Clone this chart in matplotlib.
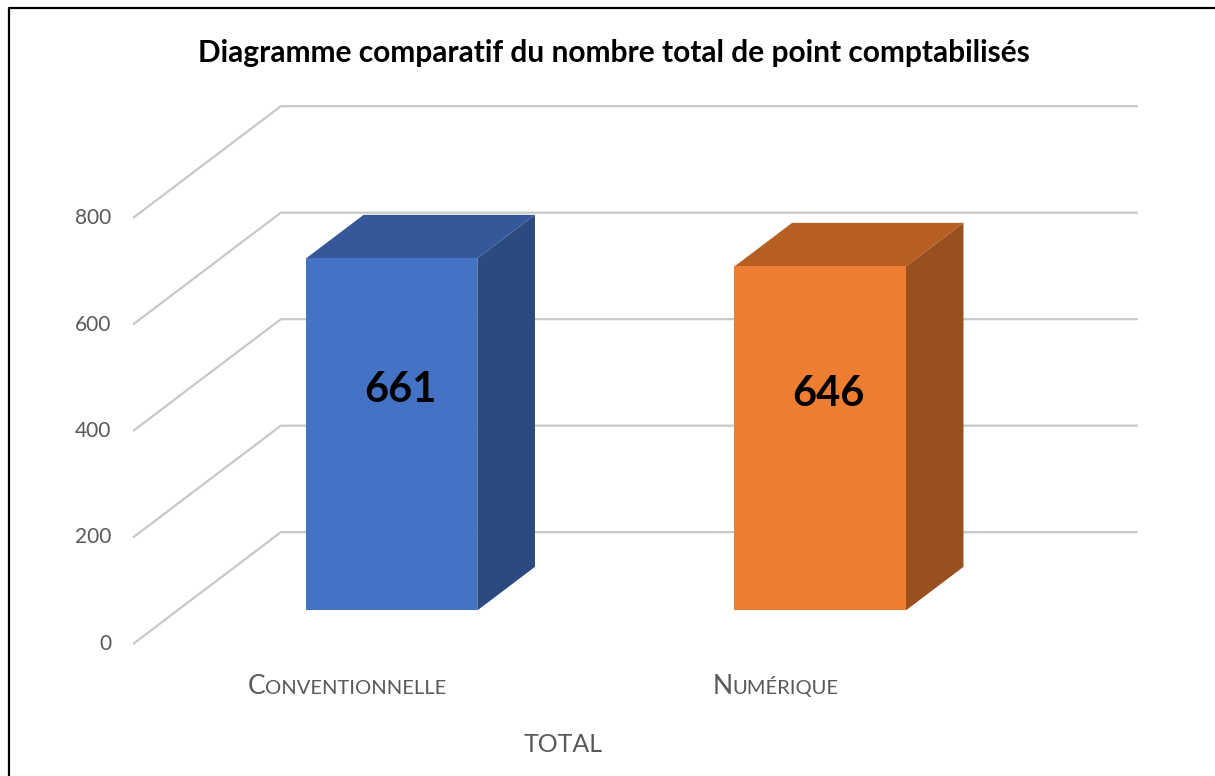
import matplotlib
matplotlib.use('Agg')
import matplotlib.pyplot as plt
from matplotlib.patches import Polygon
from matplotlib.lines import Line2D
from matplotlib.offsetbox import TextArea, HPacker, AnnotationBbox

plt.rcParams['font.family'] = ['Lato', 'DejaVu Sans']

# data
categories = ['Conventionnelle', 'Numérique']
totals = [661, 646]
yticks = [0, 200, 400, 600, 800]
front_colors = ['#4472C4', '#ED7D31']
top_colors = ['#34589A', '#B55F23']
side_colors = ['#2B4A7F', '#9A4F1E']

# oblique 3d look: depth 1.0 moves a point by (ddx, ddy) in data units
ddx = 0.345
ddy = 210.0
bar_w = 0.40
d0, d1 = 0.30, 0.69
grid_col = '#C8C8C8'
text_col = '#595959'


def proj(x, v, d):
    return (x + ddx * d, v + ddy * d)


fig = plt.figure(figsize=(12.15, 7.76), dpi=100)
ax = fig.add_axes([0, 0, 1, 1])
ax.set_xlim(-0.3104, 2.525)
ax.set_ylim(-247.9, 1209.4)
ax.axis('off')

# side wall diagonals + back wall gridlines
for v in yticks:
    pts = [proj(0, v, 0), proj(0, v, 1), proj(len(categories), v, 1)]
    ax.plot([p[0] for p in pts], [p[1] for p in pts], color=grid_col,
            lw=1.6, solid_capstyle='butt', zorder=1)
    ax.text(-0.05, v, str(v), ha='right', va='center', fontsize=15,
            color=text_col)

# bars as three visible faces
for i, v in enumerate(totals):
    c = i + 0.5
    xl, xr = c - bar_w / 2, c + bar_w / 2
    front = [proj(xl, 0, d0), proj(xr, 0, d0), proj(xr, v, d0), proj(xl, v, d0)]
    top = [proj(xl, v, d0), proj(xr, v, d0), proj(xr, v, d1), proj(xl, v, d1)]
    side = [proj(xr, 0, d0), proj(xr, 0, d1), proj(xr, v, d1), proj(xr, v, d0)]
    ax.add_patch(Polygon(side, closed=True, fc=side_colors[i], ec='none', zorder=3))
    ax.add_patch(Polygon(top, closed=True, fc=top_colors[i], ec='none', zorder=3))
    ax.add_patch(Polygon(front, closed=True, fc=front_colors[i], ec='none', zorder=4))
    lx, ly = proj(c + 0.02, v / 2 + 84, d0)
    ax.text(lx, ly, str(v), ha='center', va='center', fontsize=30,
            fontweight='bold', color='black', zorder=5)

    # category label in small caps
    name = categories[i].upper()
    parts = [TextArea(name[0], textprops=dict(fontsize=19, color=text_col)),
             TextArea(name[1:], textprops=dict(fontsize=14.5, color=text_col))]
    box = HPacker(children=parts, align='baseline', pad=0, sep=0)
    ab = AnnotationBbox(box, (c, -79), xycoords='data', frameon=False,
                        box_alignment=(0.5, 0.5))
    ax.add_artist(ab)

fig.text(614 / 1215, 1 - 53 / 776,
         'Diagramme comparatif du nombre total de point comptabilisés',
         ha='center', va='center', fontsize=21.5, fontweight='bold', color='black')
fig.text(563 / 1215, 1 - 745 / 776, 'TOTAL', ha='center', va='center',
         fontsize=18, color=text_col)

# chart frame (left and top edges)
fig.add_artist(Line2D([9 / 1215, 9 / 1215, 1], [0, 1 - 8 / 776, 1 - 8 / 776],
                      transform=fig.transFigure, color='black', lw=1.6))

fig.savefig('out.png', dpi=100, facecolor='white')
